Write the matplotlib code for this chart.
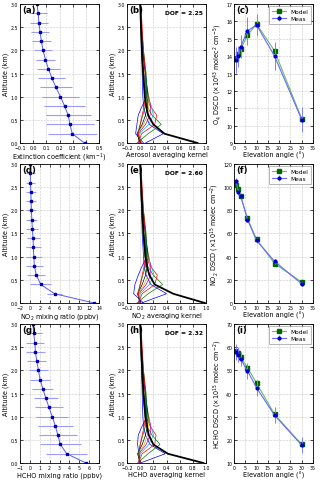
import matplotlib.pyplot as plt
import numpy as np

# retrieved profiles, altitude grid in km (bottom -> top)
alt = [0.0, 0.2, 0.4, 0.6, 0.8, 1.0, 1.2, 1.4, 1.6, 1.8, 2.0, 2.2, 2.4, 2.6, 2.8, 3.0]

ext = [0.39, 0.297, 0.279, 0.266, 0.238, 0.207, 0.173, 0.142, 0.116, 0.093,
       0.075, 0.062, 0.052, 0.044, 0.037, 0.03]
ext_err = [0.0, 0.184, 0.183, 0.172, 0.159, 0.139, 0.122, 0.102, 0.086, 0.075,
           0.068, 0.071, 0.071, 0.068, 0.07, 0.0]

no2_vmr = [13.0, 5.0, 2.2, 1.3, 0.9, 0.8, 0.7, 0.65, 0.5, 0.4, 0.3, 0.25, 0.2, 0.1, 0.1, 0.1]
no2_vmr_err = [0.0, 1.6, 2.1, 1.8, 1.7, 1.6, 1.5, 1.3, 1.2, 1.1, 1.0, 1.0, 0.95, 0.9, 0.9, 0.0]

hcho_vmr = [5.67, 3.73, 3.08, 2.84, 2.57, 2.27, 1.93, 1.62, 1.31, 1.04, 0.87, 0.70,
            0.56, 0.50, 0.39, 0.30]
hcho_vmr_err = [0.0, 2.1, 2.1, 1.9, 1.75, 1.6, 1.4, 1.2, 1.05, 1.0, 1.0, 0.97, 0.97,
                0.9, 0.85, 0.0]

# averaging kernels, on a coarser altitude grid
ak_alt = [0.0, 0.2, 0.4, 0.6, 0.8, 1.0, 1.5, 2.0, 2.5, 3.0]
ak_colors = ["b", "g", "r", "c", "m", "y", "k", "b", "g", "r"]

aer_ak_surf = [0.87, 0.37, 0.20, 0.12, 0.09, 0.07, 0.045, 0.025, 0.012, 0.0]
aer_ak = [
    [0.08, 0.35, 0.14, 0.08, 0.05, 0.04, 0.03, 0.02, 0.01, 0.0],
    [-0.05, 0.12, 0.32, 0.18, 0.10, 0.07, 0.04, 0.02, 0.01, 0.0],
    [-0.03, 0.02, 0.22, 0.25, 0.15, 0.09, 0.05, 0.03, 0.01, 0.0],
    [-0.02, -0.01, 0.13, 0.20, 0.17, 0.11, 0.05, 0.03, 0.01, 0.0],
    [-0.02, -0.03, 0.08, 0.15, 0.16, 0.13, 0.06, 0.03, 0.01, 0.0],
    [-0.01, -0.04, 0.05, 0.11, 0.13, 0.13, 0.07, 0.03, 0.01, 0.0],
    [0.0, -0.05, 0.03, 0.08, 0.11, 0.12, 0.08, 0.04, 0.02, 0.0],
    [0.05, -0.07, -0.05, -0.03, 0.03, 0.10, 0.08, 0.04, 0.02, 0.0],
    [0.02, -0.04, 0.0, 0.04, 0.08, 0.10, 0.09, 0.05, 0.02, 0.0],
    [0.01, -0.03, 0.0, 0.03, 0.06, 0.08, 0.08, 0.05, 0.03, 0.01],
]

no2_ak_surf = [0.98, 0.50, 0.22, 0.14, 0.10, 0.08, 0.05, 0.03, 0.015, 0.0]
no2_ak = [
    [0.02, 0.40, 0.16, 0.09, 0.06, 0.05, 0.03, 0.02, 0.01, 0.0],
    [-0.05, 0.12, 0.34, 0.20, 0.11, 0.07, 0.04, 0.02, 0.01, 0.0],
    [-0.03, 0.03, 0.22, 0.26, 0.15, 0.09, 0.05, 0.03, 0.01, 0.0],
    [-0.02, 0.0, 0.14, 0.21, 0.17, 0.11, 0.05, 0.03, 0.01, 0.0],
    [-0.02, -0.02, 0.09, 0.16, 0.16, 0.13, 0.06, 0.03, 0.01, 0.0],
    [-0.01, -0.03, 0.06, 0.12, 0.14, 0.13, 0.07, 0.03, 0.01, 0.0],
    [0.0, -0.04, 0.03, 0.08, 0.11, 0.12, 0.08, 0.04, 0.02, 0.0],
    [0.05, -0.10, -0.08, -0.03, 0.03, 0.10, 0.08, 0.04, 0.02, 0.0],
    [0.0, -0.04, 0.0, 0.04, 0.08, 0.10, 0.09, 0.05, 0.02, 0.0],
    [0.0, -0.03, 0.0, 0.03, 0.06, 0.08, 0.08, 0.05, 0.03, 0.01],
]

hcho_ak_surf = [0.96, 0.42, 0.20, 0.13, 0.10, 0.08, 0.05, 0.03, 0.015, 0.0]
hcho_ak = [
    [0.0, 0.38, 0.15, 0.08, 0.05, 0.04, 0.03, 0.02, 0.01, 0.0],
    [-0.04, 0.12, 0.30, 0.18, 0.10, 0.07, 0.04, 0.02, 0.01, 0.0],
    [-0.03, 0.03, 0.22, 0.24, 0.15, 0.09, 0.05, 0.03, 0.01, 0.0],
    [-0.02, 0.0, 0.13, 0.20, 0.16, 0.11, 0.05, 0.03, 0.01, 0.0],
    [-0.02, -0.02, 0.09, 0.15, 0.16, 0.13, 0.06, 0.03, 0.01, 0.0],
    [-0.01, -0.03, 0.06, 0.11, 0.13, 0.13, 0.07, 0.03, 0.01, 0.0],
    [0.0, -0.04, 0.03, 0.08, 0.11, 0.12, 0.08, 0.04, 0.02, 0.0],
    [0.0, -0.02, -0.04, -0.03, 0.03, 0.10, 0.08, 0.04, 0.02, 0.0],
    [0.0, -0.03, 0.0, 0.04, 0.08, 0.10, 0.09, 0.05, 0.02, 0.0],
    [0.0, -0.02, 0.0, 0.03, 0.06, 0.08, 0.08, 0.05, 0.03, 0.01],
]

dofs = ["2.25", "2.60", "2.32"]

# DSCDs vs elevation angle
elev = [1, 2, 3, 6, 10, 18, 30]
o4_model = [13.85, 14.1, 14.4, 15.2, 15.85, 14.3, 10.4]
o4_meas = [13.8, 14.0, 14.55, 15.45, 15.8, 14.0, 10.35]
o4_err = [0.75, 0.6, 0.65, 0.8, 0.65, 0.8, 0.7]

no2_model = [102, 98.5, 92, 73, 55, 34, 18]
no2_meas = [105.5, 95.5, 92.5, 72, 54, 36, 16.5]
no2_err = [2.5, 2.5, 2.0, 2.0, 2.0, 2.0, 2.0]

hcho_model = [58.2, 57.3, 55.6, 51.2, 44.5, 31.0, 18.0]
hcho_meas = [57.8, 56.7, 54.8, 49.8, 42.5, 30.6, 17.7]
hcho_err = [3.5, 3.2, 3.0, 3.5, 3.5, 3.5, 3.5]

TICK_FS = 3.4
LABEL_FS = 4.7
PANEL_FS = 6.2

fig = plt.figure(figsize=(3.2, 4.81), dpi=100)

lefts = [0.0625, 0.397, 0.731]
bottoms = [0.7006, 0.368, 0.0353]
W, H = 0.247, 0.289


def style(ax, letter):
    ax.grid(True, color="0.6", ls=":", lw=0.4)
    ax.tick_params(direction="in", length=2, width=0.5, labelsize=TICK_FS, pad=1.2,
                   top=True, right=True)
    for s in ax.spines.values():
        s.set_linewidth(0.6)
    ax.text(0.03, 0.99, letter, transform=ax.transAxes, fontsize=PANEL_FS,
            fontweight="bold", va="top", ha="left")


def profile_panel(ax, vals, errs, xlim, xticks, xlabel, letter):
    ax.errorbar(vals, alt, xerr=errs, color="#5a5aff", lw=0.7, marker="s", ms=2,
                mfc="#0000aa", mec="#0000aa", ecolor="#9a9aff", elinewidth=0.8,
                capsize=0, clip_on=True)
    ax.set_xlim(*xlim)
    ax.set_ylim(0, 3.0)
    ax.set_xticks(xticks)
    ax.set_yticks([0, 0.5, 1.0, 1.5, 2.0, 2.5, 3.0])
    ax.set_yticklabels(["0.0", "0.5", "1.0", "1.5", "2.0", "2.5", "3.0"])
    ax.set_xlabel(xlabel, fontsize=LABEL_FS, labelpad=1)
    ax.set_ylabel("Altitude (km)", fontsize=LABEL_FS, labelpad=1.5)
    style(ax, letter)


def ak_panel(ax, kernels, surf, dof, xlabel, letter):
    for k, c in zip(kernels, ak_colors):
        ax.plot(k, ak_alt, color=c, lw=0.5)
    ax.plot(surf, ak_alt, color="k", lw=1.3)
    ax.set_xlim(-0.2, 1.0)
    ax.set_ylim(0, 3.0)
    ax.set_xticks([-0.2, 0.0, 0.2, 0.4, 0.6, 0.8, 1.0])
    ax.set_yticks([0, 0.5, 1.0, 1.5, 2.0, 2.5, 3.0])
    ax.set_yticklabels(["0.0", "0.5", "1.0", "1.5", "2.0", "2.5", "3.0"])
    ax.set_xlabel(xlabel, fontsize=LABEL_FS, labelpad=1)
    ax.set_ylabel("Altitude (km)", fontsize=LABEL_FS, labelpad=1.5)
    ax.text(0.96, 0.955, "DOF = " + dof, transform=ax.transAxes, fontsize=4.3,
            fontweight="bold", ha="right", va="top")
    style(ax, letter)


def dscd_panel(ax, model, meas, err, ylim, yticks, ylabel, letter):
    ax.plot(elev, model, color="#66bb66", lw=0.8, marker="s", ms=2.2,
            mfc="#006600", mec="#006600", label="Model")
    ax.errorbar(elev, meas, yerr=err, color="#6a6aff", lw=0.8, marker="o", ms=2,
                mfc="#0000cc", mec="#0000cc", ecolor="#8080ff", elinewidth=0.7,
                capsize=0, label="Meas")
    ax.set_xlim(0, 35)
    ax.set_ylim(*ylim)
    ax.set_xticks(range(0, 36, 5))
    ax.set_yticks(yticks)
    ax.set_xlabel("Elevation angle (°)", fontsize=LABEL_FS, labelpad=1)
    ax.set_ylabel(ylabel, fontsize=LABEL_FS, labelpad=1.5)
    ax.legend(loc="upper right", fontsize=4.2, handlelength=2.4, borderpad=0.5,
              labelspacing=0.35, handletextpad=0.8, frameon=True, fancybox=False,
              edgecolor="0.5", borderaxespad=0.3).get_frame().set_linewidth(0.5)
    style(ax, letter)


axes = [[fig.add_axes([l, b, W, H]) for l in lefts] for b in bottoms]

profile_panel(axes[0][0], ext, ext_err, (-0.1, 0.5),
              [-0.1, 0.0, 0.1, 0.2, 0.3, 0.4, 0.5],
              "Extinction coefficient (km$^{-1}$)", "(a)")
ak_panel(axes[0][1], aer_ak, aer_ak_surf, dofs[0], "Aerosol averaging kernel", "(b)")
dscd_panel(axes[0][2], o4_model, o4_meas, o4_err, (9, 17), range(9, 18),
           "O$_4$ DSCD ($\\times10^{43}$ molec$^2$ cm$^{-5}$)", "(c)")

profile_panel(axes[1][0], no2_vmr, no2_vmr_err, (-2, 14), range(-2, 15, 2),
              "NO$_2$ mixing ratio (ppbv)", "(d)")
ak_panel(axes[1][1], no2_ak, no2_ak_surf, dofs[1], "NO$_2$ averaging kernel", "(e)")
dscd_panel(axes[1][2], no2_model, no2_meas, no2_err, (0, 120), range(0, 121, 20),
           "NO$_2$ DSCD ($\\times10^{15}$ molec cm$^{-2}$)", "(f)")

profile_panel(axes[2][0], hcho_vmr, hcho_vmr_err, (-1, 7), range(-1, 8),
              "HCHO mixing ratio (ppbv)", "(g)")
ak_panel(axes[2][1], hcho_ak, hcho_ak_surf, dofs[2], "HCHO averaging kernel", "(h)")
dscd_panel(axes[2][2], hcho_model, hcho_meas, hcho_err, (10, 70), range(10, 71, 10),
           "HCHO DSCD ($\\times10^{15}$ molec cm$^{-2}$)", "(i)")

fig.savefig("out.png", dpi=100)
